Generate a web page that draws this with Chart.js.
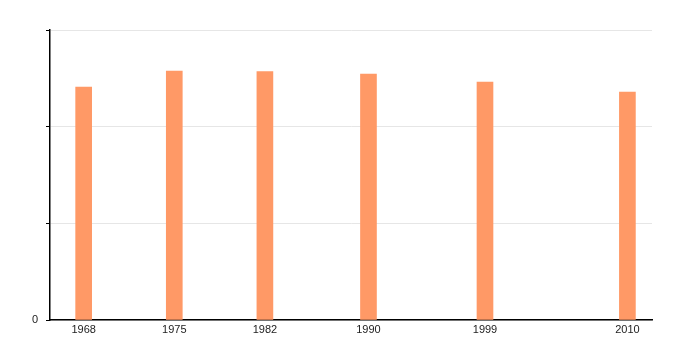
<!DOCTYPE html>
<html>
<head>
<meta charset="utf-8">
<script src="https://cdn.jsdelivr.net/npm/chart.js@4/dist/chart.umd.min.js"></script>
<style>
  html, body { margin: 0; padding: 0; background: #fff; }
  #wrap { width: 700px; height: 350px; }
</style>
</head>
<body>
<div id="wrap"><canvas id="chart" width="700" height="350"></canvas></div>
<script>
// values (y scale has no labels besides 0)
const years = [1968, 1975, 1982, 1990, 1999, 2010];
const population = [2410, 2576, 2570, 2545, 2462, 2359];
const yTicks = [0, 1000, 2000, 3000];

const points = years.map((y, i) => ({ x: y, y: population[i] }));
const font = { family: '"Liberation Sans", Arial, sans-serif', size: 11 };

new Chart(document.getElementById('chart'), {
  type: 'bar',
  data: {
    datasets: [{
      data: points,
      backgroundColor: '#ff9966',
      barThickness: 16,
      borderWidth: 0,
    }],
  },
  options: {
    responsive: false,
    animation: false,
    layout: { padding: { left: 0, top: 30, right: 48, bottom: 0 } },
    plugins: { legend: { display: false }, tooltip: { enabled: false } },
    scales: {
      x: {
        type: 'linear',
        offset: false,
        min: 1965.4,
        max: 2011.9,
        grid: { display: false, drawTicks: false },
        border: { color: '#000', width: 1.5 },
        ticks: {
          color: '#222', font, padding: 3, autoSkip: false, maxRotation: 0,
          callback: (v) => String(v),
        },
        afterBuildTicks: (s) => { s.ticks = years.map((v) => ({ value: v })); },
        afterFit: (s) => { s.height = 30; },
      },
      y: {
        min: 0,
        max: 3000,
        grid: { color: '#e6e6e6', tickColor: '#000', tickLength: 4 },
        border: { color: '#000', width: 1.5 },
        ticks: {
          color: '#222', font, padding: 8,
          callback: (v) => (v === 0 ? '0' : ''),
        },
        afterBuildTicks: (s) => { s.ticks = yTicks.map((v) => ({ value: v })); },
        afterFit: (s) => { s.width = 50; },
      },
    },
  },
});
</script>
</body>
</html>
